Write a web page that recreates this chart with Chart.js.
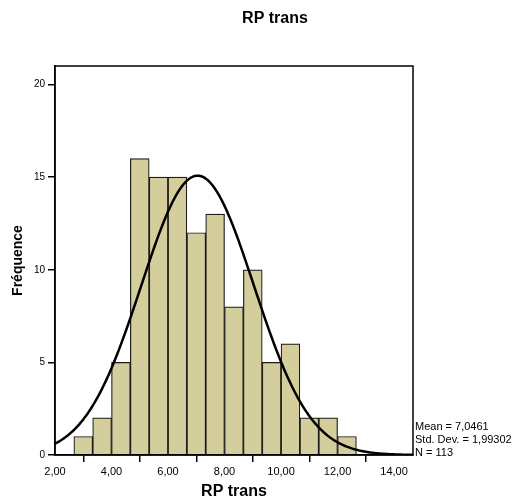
<!DOCTYPE html>
<html>
<head>
<meta charset="utf-8">
<script src="https://cdn.jsdelivr.net/npm/chart.js@4/dist/chart.umd.min.js"></script>
<style>
  html, body { margin: 0; padding: 0; background: #fff; }
  #wrap { width: 522px; height: 502px; position: relative; }
</style>
</head>
<body>
<div id="wrap"><canvas id="histChart"></canvas></div>
<script>
// RP trans histogram with fitted normal curve
const binCenters = [3.0, 3.667, 4.333, 5.0, 5.667, 6.333, 7.0, 7.667, 8.333, 9.0, 9.667, 10.333, 11.0, 11.667, 12.333];
const binCounts  = [1, 2, 5, 16, 15, 15, 12, 13, 8, 10, 5, 6, 2, 2, 1];
const binWidth = 2 / 3;
const xTicks = [2, 4, 6, 8, 10, 12, 14];
const yTicks = [0, 5, 10, 15, 20];
const xRange = [2, 14.67];
const yRange = [0, 21];
const stats = { mean: 7.0461, sd: 1.99302, n: 113 };
const statLines = ['Mean = 7,0461', 'Std. Dev. = 1,99302', 'N = 113'];

const FONT = "'Liberation Sans', Arial, sans-serif";

// normal curve from the stated mean / sd / N, scaled to bin width
const curve = [];
for (let x = xRange[0]; x <= xRange[1] + 1e-9; x += 0.05) {
  const z = (x - stats.mean) / stats.sd;
  const y = stats.n * binWidth * Math.exp(-0.5 * z * z) / (stats.sd * Math.sqrt(2 * Math.PI));
  curve.push({ x: x, y: y });
}

const fmtComma = v => v.toFixed(2).replace('.', ',');

const framePlugin = {
  id: 'frame',
  afterDatasetsDraw(chart) {
    const { ctx, chartArea: a } = chart;
    ctx.save();
    ctx.strokeStyle = '#000';
    ctx.lineWidth = 1.5;
    ctx.strokeRect(a.left, a.top, a.right - a.left, a.bottom - a.top);
    ctx.restore();
  },
  afterDraw(chart) {
    const { ctx, chartArea: a } = chart;
    ctx.save();
    ctx.fillStyle = '#000';
    ctx.font = 'bold 16px ' + FONT;
    ctx.textAlign = 'center';
    ctx.textBaseline = 'middle';
    ctx.fillText('RP trans', 275, 19);
    ctx.font = '11px ' + FONT;
    ctx.textAlign = 'left';
    statLines.forEach((t, i) => ctx.fillText(t, a.right + 2, a.bottom - 28 + i * 13));
    ctx.restore();
  }
};

new Chart(document.getElementById('histChart').getContext('2d'), {
  data: {
    datasets: [
      {
        type: 'line',
        label: 'Normal',
        data: curve,
        borderColor: '#000',
        borderWidth: 2.5,
        pointRadius: 0,
        tension: 0,
        fill: false,
        order: 0
      },
      {
        type: 'bar',
        label: 'Fréquence',
        data: binCenters.map((c, i) => ({ x: c, y: binCounts[i] })),
        backgroundColor: '#d4ce9c',
        borderColor: '#1a1a1a',
        borderWidth: 1.2,
        barPercentage: 1,
        categoryPercentage: 1,
        order: 1
      }
    ]
  },
  options: {
    responsive: true,
    maintainAspectRatio: false,
    animation: false,
    layout: { padding: { top: 66, right: 109, left: 0, bottom: 0 } },
    scales: {
      x: {
        type: 'linear',
        offset: false,
        min: xRange[0],
        max: xRange[1],
        afterBuildTicks: s => { s.ticks = xTicks.map(v => ({ value: v })); },
        afterFit: s => { s.height = 47; },
        grid: { drawOnChartArea: false, drawTicks: true, tickLength: 7, color: '#000', lineWidth: 1.5 },
        border: { display: true, color: '#000', width: 1.5 },
        ticks: { color: '#000', font: { family: FONT, size: 11 }, padding: 3, maxRotation: 0, callback: v => fmtComma(v) },
        title: { display: true, text: 'RP trans', color: '#000', font: { family: FONT, size: 16, weight: 'bold' }, padding: { top: 0, bottom: 1 } }
      },
      y: {
        min: yRange[0],
        max: yRange[1],
        afterBuildTicks: s => { s.ticks = yTicks.map(v => ({ value: v })); },
        afterFit: s => { s.width = 55; },
        grid: { drawOnChartArea: false, drawTicks: true, tickLength: 7, color: '#000', lineWidth: 1.5 },
        border: { display: true, color: '#000', width: 1.5 },
        ticks: { color: '#000', font: { family: FONT, size: 10 }, padding: 3, callback: v => String(v) },
        title: { display: true, text: 'Fréquence', color: '#000', font: { family: FONT, size: 14, weight: 'bold' }, padding: { top: 10, bottom: 0 } }
      }
    },
    plugins: {
      legend: { display: false },
      tooltip: { enabled: false }
    }
  },
  plugins: [framePlugin]
});
</script>
</body>
</html>
